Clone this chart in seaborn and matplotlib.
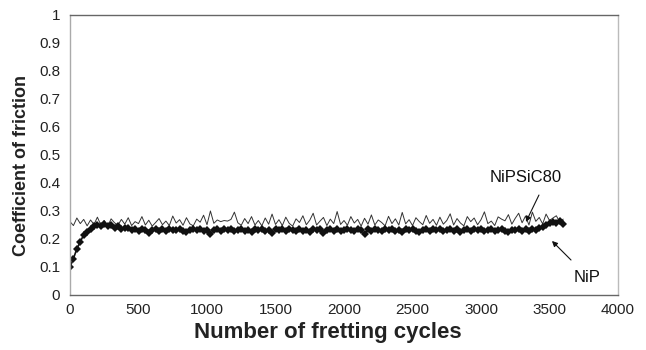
import matplotlib
matplotlib.use("Agg")
import matplotlib.pyplot as plt
import seaborn as sns
import numpy as np
import pandas as pd

# cycles sampled every 25 fretting cycles
cycles = list(range(0, 3601, 25))

nip = [
    0.100, 0.130, 0.165, 0.190, 0.215, 0.225, 0.235, 0.245, 0.250, 0.248,
    0.252, 0.245, 0.250, 0.240, 0.245, 0.235, 0.240,
    0.238, 0.232, 0.236, 0.229, 0.234, 0.231, 0.222, 0.233, 0.236, 0.230,
    0.234, 0.228, 0.235, 0.232, 0.231, 0.237, 0.229, 0.226, 0.233, 0.235,
    0.231, 0.236, 0.230, 0.233, 0.219, 0.232, 0.236, 0.228, 0.234, 0.231,
    0.235, 0.229, 0.233, 0.237, 0.230, 0.232, 0.226, 0.234, 0.231, 0.236,
    0.229, 0.233, 0.220, 0.235, 0.231, 0.234, 0.228, 0.236, 0.232, 0.230,
    0.237, 0.229, 0.233, 0.226, 0.235, 0.231, 0.234, 0.222, 0.232, 0.236,
    0.230, 0.234, 0.228, 0.233, 0.237, 0.231, 0.229, 0.235, 0.232, 0.218,
    0.234, 0.230, 0.236, 0.233, 0.228, 0.235, 0.231, 0.237, 0.229, 0.233,
    0.226, 0.234, 0.232, 0.236, 0.230, 0.224, 0.233, 0.235, 0.229, 0.234,
    0.231, 0.237, 0.228, 0.233, 0.236, 0.230, 0.234, 0.225, 0.232, 0.235,
    0.229, 0.234, 0.231, 0.236, 0.228, 0.233, 0.237, 0.230, 0.232, 0.235,
    0.229, 0.226, 0.233, 0.231, 0.235, 0.230, 0.234, 0.228, 0.236, 0.232,
    0.238, 0.244, 0.249, 0.256, 0.262, 0.258, 0.266, 0.252,
]

nipsic80 = [
    0.262, 0.248, 0.275, 0.255, 0.270, 0.247, 0.268, 0.252, 0.278, 0.250,
    0.266, 0.245, 0.272, 0.258, 0.249, 0.270, 0.253, 0.276, 0.248, 0.262,
    0.255, 0.280, 0.250, 0.267, 0.246, 0.259, 0.273, 0.251, 0.264, 0.248,
    0.282, 0.257, 0.269, 0.249, 0.276, 0.254, 0.247, 0.271, 0.260, 0.285,
    0.251, 0.300, 0.256, 0.268, 0.262, 0.266, 0.264, 0.270, 0.296, 0.258,
    0.249, 0.273, 0.255, 0.280, 0.250, 0.266, 0.247, 0.275, 0.253, 0.289,
    0.252, 0.269, 0.248, 0.278, 0.256, 0.246, 0.272, 0.259, 0.283, 0.251,
    0.267, 0.292, 0.250, 0.264, 0.277, 0.248, 0.271, 0.255, 0.298, 0.252,
    0.266, 0.249, 0.280, 0.257, 0.270, 0.246, 0.274, 0.253, 0.286, 0.250,
    0.268, 0.259, 0.247, 0.281, 0.255, 0.272, 0.250, 0.295, 0.254, 0.269,
    0.248, 0.276, 0.262, 0.251, 0.284, 0.256, 0.270, 0.249, 0.278, 0.253,
    0.266, 0.290, 0.250, 0.273, 0.257, 0.247, 0.280, 0.262, 0.275, 0.251,
    0.269, 0.297, 0.255, 0.264, 0.248, 0.279, 0.271, 0.265, 0.287, 0.253,
    0.274, 0.292, 0.258, 0.282, 0.250, 0.296, 0.263, 0.277, 0.254, 0.289,
    0.266, 0.275, 0.283, 0.260, 0.271,
]

x_ticks = list(range(0, 4001, 500))
y_ticks = [round(0.1 * i, 1) for i in range(11)]

sns.set_style("white")
plt.rcParams['font.family'] = ['Liberation Sans', 'DejaVu Sans']

df = pd.DataFrame({'cycles': cycles, 'NiP': nip, 'NiPSiC80': nipsic80})

fig = plt.figure(figsize=(6.46, 3.5), dpi=100)
ax = fig.add_axes([70 / 646, 55 / 350, 548 / 646, 280 / 350])

sns.lineplot(data=df, x='cycles', y='NiPSiC80', ax=ax, color='#333333',
             linewidth=0.7)
sns.lineplot(data=df, x='cycles', y='NiP', ax=ax, color='#111111',
             linewidth=1.2, marker='D', markersize=4.3, markeredgewidth=0)

ax.set_xlim(0, 4000)
ax.set_ylim(0, 1)
ax.set_xticks(x_ticks)
ax.set_yticks(y_ticks)
ax.set_yticklabels([f'{v:g}' for v in y_ticks])
ax.tick_params(axis='both', labelsize=11, colors='#222222')
ax.tick_params(axis='x', direction='in', length=4, width=0.8, color='#666666', pad=6)
ax.tick_params(axis='y', direction='out', length=4, width=0.8, color='#888888', pad=3)

ax.spines['left'].set_color('#aaaaaa')
ax.spines['bottom'].set_color('#666666')
ax.spines['top'].set_color('#666666')
ax.spines['right'].set_color('#bbbbbb')
for s in ax.spines.values():
    s.set_linewidth(1.0)

ax.set_xlabel('Number of fretting cycles', fontsize=16, fontweight='bold',
              color='#222222')
ax.set_ylabel('Coefficient of friction', fontsize=13, fontweight='bold',
              color='#222222')
ax.xaxis.set_label_coords(0.471, -0.095)
ax.yaxis.set_label_coords(-0.073, 0.464)

# annotations with arrows
arrow = dict(arrowstyle='-|>', color='#111111', lw=0.8,
             mutation_scale=8, shrinkA=0, shrinkB=0)
ax.text(3328, 0.418, 'NiPSiC80', fontsize=12, ha='center', va='center',
        color='#111111')
ax.annotate('', xy=(3328, 0.261), xytext=(3423, 0.357), arrowprops=arrow)
ax.text(3774, 0.064, 'NiP', fontsize=12, ha='center', va='center',
        color='#111111')
ax.annotate('', xy=(3518, 0.193), xytext=(3657, 0.125), arrowprops=arrow)

fig.savefig('out.png', dpi=100)
plt.close(fig)
